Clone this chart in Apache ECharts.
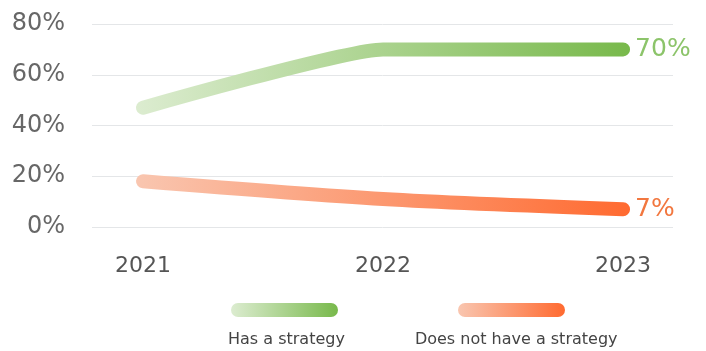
<!DOCTYPE html>
<html>
<head>
<meta charset="utf-8">
<script src="https://cdn.jsdelivr.net/npm/echarts@6/dist/echarts.min.js"></script>
<style>
  html, body { margin: 0; padding: 0; background: #ffffff; }
  #chart { width: 706px; height: 351px; }
</style>
</head>
<body>
<div id="chart"></div>
<script>
// Survey years and share of respondents per answer
const years = [2021, 2022, 2023];
const hasStrategy = [47, 70, 70];
const noStrategy = [18, 11, 7];
const seriesNames = ['Has a strategy', 'Does not have a strategy'];
const yTicks = [0, 20, 40, 60, 80];

const FONT = "'DejaVu Sans', 'Noto Sans', sans-serif";

function grad(from, to) {
  return new echarts.graphic.LinearGradient(0, 0, 1, 0, [
    { offset: 0, color: from },
    { offset: 1, color: to }
  ]);
}
const greenGrad = grad('#dcecd0', '#78b94b');
const orangeGrad = grad('#f9c6b0', '#ff6a30');

const pill = 'path://M7,0 H100 A7,7 0 0 1 100,14 H7 A7,7 0 0 1 7,0 Z';

const chart = echarts.init(document.getElementById('chart'), null, { renderer: 'canvas' });

chart.setOption({
  animation: false,
  backgroundColor: '#ffffff',
  grid: { left: 92, right: 33, top: 24, bottom: 124 },
  xAxis: {
    type: 'value',
    min: 2020.7875,
    max: 2023.208,
    splitLine: { show: false },
    axisLine: { show: false },
    axisTick: { show: false },
    axisLabel: {
      customValues: years,
      formatter: v => String(v),
      color: '#555555',
      fontSize: 22,
      fontFamily: FONT,
      margin: 28
    }
  },
  yAxis: {
    type: 'value',
    min: 0,
    max: 80,
    interval: 20,
    axisLine: { show: false },
    axisTick: { show: false },
    splitLine: { lineStyle: { color: '#e4e6e8', width: 1 } },
    axisLabel: {
      formatter: v => yTicks.includes(v) ? v + '%' : '',
      color: '#676767',
      fontSize: 24,
      fontFamily: FONT,
      margin: 27
    }
  },
  legend: [
    {
      left: 231,
      top: 303,
      padding: 0,
      itemWidth: 107,
      itemHeight: 14,
      itemGap: 120,
      icon: pill,
      formatter: () => '',
      data: [
        { name: seriesNames[0], itemStyle: { color: greenGrad } },
        { name: seriesNames[1], itemStyle: { color: orangeGrad } }
      ]
    },
    {
      left: 223,
      top: 332,
      padding: 0,
      itemWidth: 0,
      itemHeight: 0,
      itemGap: 65,
      icon: 'none',
      textStyle: { color: '#444444', fontSize: 16, fontFamily: FONT },
      data: seriesNames
    }
  ],
  series: [
    {
      name: seriesNames[0],
      type: 'line',
      smooth: 0.15,
      showSymbol: false,
      data: years.map((y, i) => [y, hasStrategy[i]]),
      itemStyle: { color: greenGrad },
      lineStyle: { width: 14, cap: 'round', join: 'round', color: greenGrad },
      endLabel: {
        show: true,
        formatter: p => p.value[1] + '%',
        color: '#8cc46a',
        fontSize: 25,
        fontFamily: FONT,
        distance: 12
      }
    },
    {
      name: seriesNames[1],
      type: 'line',
      smooth: 0.3,
      showSymbol: false,
      data: years.map((y, i) => [y, noStrategy[i]]),
      itemStyle: { color: orangeGrad },
      lineStyle: { width: 14, cap: 'round', join: 'round', color: orangeGrad },
      endLabel: {
        show: true,
        formatter: p => p.value[1] + '%',
        color: '#f2773f',
        fontSize: 25,
        fontFamily: FONT,
        distance: 12
      }
    }
  ]
});
</script>
</body>
</html>
